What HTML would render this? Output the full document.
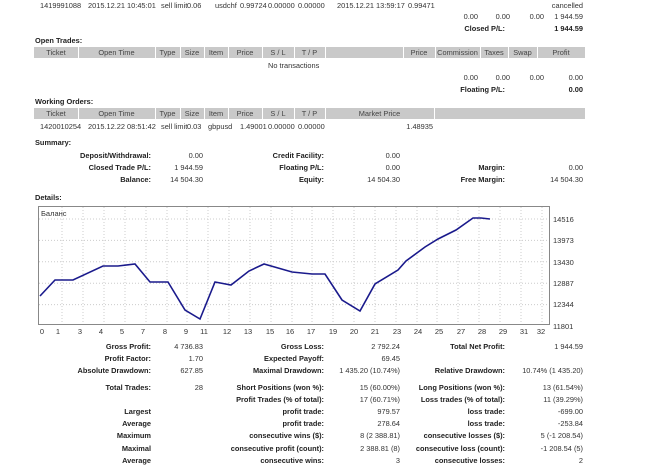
<!DOCTYPE html>
<html><head><meta charset="utf-8"><style>
body{margin:0;width:650px;height:467px;background:#fff;position:relative;overflow:hidden;font-family:"Liberation Sans","DejaVu Sans",sans-serif;font-size:7.4px;color:#333}
.t{position:absolute;white-space:nowrap;line-height:9px}
.b{font-weight:bold;color:#222}
.h{position:absolute;background:#c9c9c9;height:11px}
.c{position:absolute;text-align:center;line-height:11px;color:#444}
.v{position:absolute;width:1px;background:#fff;height:11px}
</style></head><body>
<div class="t" style="left:40px;top:1px">1419991088</div>
<div class="t" style="left:88px;top:1px">2015.12.21 10:45:01</div>
<div class="t" style="left:161px;top:1px">sell limit</div>
<div class="t" style="left:187px;top:1px">0.06</div>
<div class="t" style="left:215px;top:1px">usdchf</div>
<div class="t" style="left:240px;top:1px">0.99724</div>
<div class="t" style="left:268px;top:1px">0.00000</div>
<div class="t" style="left:298px;top:1px">0.00000</div>
<div class="t" style="left:337px;top:1px">2015.12.21 13:59:17</div>
<div class="t" style="left:408px;top:1px">0.99471</div>
<div class="t" style="right:67px;top:1px">cancelled</div>
<div class="t" style="right:172px;top:12px">0.00</div>
<div class="t" style="right:140px;top:12px">0.00</div>
<div class="t" style="right:106px;top:12px">0.00</div>
<div class="t" style="right:67px;top:12px">1 944.59</div>
<div class="t b" style="right:145px;top:24px">Closed P/L:</div>
<div class="t b" style="right:67px;top:24px">1 944.59</div>
<div class="t b" style="left:35px;top:36px">Open Trades:</div>
<div class="h" style="left:34px;top:47px;width:551px"></div>
<div class="c" style="left:34px;top:47px;width:44px">Ticket</div>
<div class="c" style="left:78px;top:47px;width:77px">Open Time</div>
<div class="c" style="left:155px;top:47px;width:25px">Type</div>
<div class="c" style="left:180px;top:47px;width:24px">Size</div>
<div class="c" style="left:204px;top:47px;width:24px">Item</div>
<div class="c" style="left:228px;top:47px;width:34px">Price</div>
<div class="c" style="left:262px;top:47px;width:32px">S / L</div>
<div class="c" style="left:294px;top:47px;width:31px">T / P</div>
<div class="c" style="left:403px;top:47px;width:32px">Price</div>
<div class="c" style="left:435px;top:47px;width:45px">Commission</div>
<div class="c" style="left:480px;top:47px;width:28px">Taxes</div>
<div class="c" style="left:508px;top:47px;width:29px">Swap</div>
<div class="c" style="left:537px;top:47px;width:48px">Profit</div>
<div class="v" style="left:78px;top:47px"></div><div class="v" style="left:155px;top:47px"></div><div class="v" style="left:180px;top:47px"></div><div class="v" style="left:204px;top:47px"></div><div class="v" style="left:228px;top:47px"></div><div class="v" style="left:262px;top:47px"></div><div class="v" style="left:294px;top:47px"></div><div class="v" style="left:325px;top:47px"></div><div class="v" style="left:403px;top:47px"></div><div class="v" style="left:435px;top:47px"></div><div class="v" style="left:480px;top:47px"></div><div class="v" style="left:508px;top:47px"></div><div class="v" style="left:537px;top:47px"></div>
<div class="t" style="left:268px;top:61px">No transactions</div>
<div class="t" style="right:172px;top:73px">0.00</div>
<div class="t" style="right:140px;top:73px">0.00</div>
<div class="t" style="right:106px;top:73px">0.00</div>
<div class="t" style="right:67px;top:73px">0.00</div>
<div class="t b" style="right:145px;top:85px">Floating P/L:</div>
<div class="t b" style="right:67px;top:85px">0.00</div>
<div class="t b" style="left:35px;top:97px">Working Orders:</div>
<div class="h" style="left:34px;top:108px;width:551px"></div>
<div class="c" style="left:34px;top:108px;width:44px">Ticket</div>
<div class="c" style="left:78px;top:108px;width:77px">Open Time</div>
<div class="c" style="left:155px;top:108px;width:25px">Type</div>
<div class="c" style="left:180px;top:108px;width:24px">Size</div>
<div class="c" style="left:204px;top:108px;width:24px">Item</div>
<div class="c" style="left:228px;top:108px;width:34px">Price</div>
<div class="c" style="left:262px;top:108px;width:32px">S / L</div>
<div class="c" style="left:294px;top:108px;width:31px">T / P</div>
<div class="c" style="left:325px;top:108px;width:109px">Market Price</div>
<div class="v" style="left:78px;top:108px"></div><div class="v" style="left:155px;top:108px"></div><div class="v" style="left:180px;top:108px"></div><div class="v" style="left:204px;top:108px"></div><div class="v" style="left:228px;top:108px"></div><div class="v" style="left:262px;top:108px"></div><div class="v" style="left:294px;top:108px"></div><div class="v" style="left:325px;top:108px"></div><div class="v" style="left:434px;top:108px"></div>
<div class="t" style="left:40px;top:122px">1420010254</div>
<div class="t" style="left:88px;top:122px">2015.12.22 08:51:42</div>
<div class="t" style="left:161px;top:122px">sell limit</div>
<div class="t" style="left:187px;top:122px">0.03</div>
<div class="t" style="left:208px;top:122px">gbpusd</div>
<div class="t" style="left:240px;top:122px">1.49001</div>
<div class="t" style="left:268px;top:122px">0.00000</div>
<div class="t" style="left:298px;top:122px">0.00000</div>
<div class="t" style="right:217px;top:122px">1.48935</div>
<div class="t b" style="left:35px;top:138px">Summary:</div>
<div class="t b" style="right:499px;top:151px">Deposit/Withdrawal:</div><div class="t" style="right:447px;top:151px">0.00</div>
<div class="t b" style="right:326px;top:151px">Credit Facility:</div><div class="t" style="right:250px;top:151px">0.00</div>
<div class="t b" style="right:499px;top:163px">Closed Trade P/L:</div><div class="t" style="right:447px;top:163px">1 944.59</div>
<div class="t b" style="right:326px;top:163px">Floating P/L:</div><div class="t" style="right:250px;top:163px">0.00</div>
<div class="t b" style="right:145px;top:163px">Margin:</div><div class="t" style="right:67px;top:163px">0.00</div>
<div class="t b" style="right:499px;top:175px">Balance:</div><div class="t" style="right:447px;top:175px">14 504.30</div>
<div class="t b" style="right:326px;top:175px">Equity:</div><div class="t" style="right:250px;top:175px">14 504.30</div>
<div class="t b" style="right:145px;top:175px">Free Margin:</div><div class="t" style="right:67px;top:175px">14 504.30</div>
<div class="t b" style="left:35px;top:193px">Details:</div>
<svg style="position:absolute;left:0;top:0" width="650" height="467" font-family="Liberation Sans, sans-serif" font-size="7.5" fill="#333">
<rect x="38.5" y="206.5" width="511" height="118" fill="#fff" stroke="#888"/>
<g stroke="#ccc" stroke-dasharray="1,2">
<line x1="39" x2="549" y1="219" y2="219"/><line x1="39" x2="549" y1="240.4" y2="240.4"/><line x1="39" x2="549" y1="261.8" y2="261.8"/><line x1="39" x2="549" y1="283.2" y2="283.2"/><line x1="39" x2="549" y1="304.6" y2="304.6"/>
<line x1="62" x2="62" y1="207" y2="324"/><line x1="83" x2="83" y1="207" y2="324"/><line x1="104" x2="104" y1="207" y2="324"/><line x1="125" x2="125" y1="207" y2="324"/><line x1="146" x2="146" y1="207" y2="324"/><line x1="167" x2="167" y1="207" y2="324"/><line x1="187" x2="187" y1="207" y2="324"/><line x1="208" x2="208" y1="207" y2="324"/><line x1="229" x2="229" y1="207" y2="324"/><line x1="250" x2="250" y1="207" y2="324"/><line x1="271" x2="271" y1="207" y2="324"/><line x1="292" x2="292" y1="207" y2="324"/><line x1="312" x2="312" y1="207" y2="324"/><line x1="333" x2="333" y1="207" y2="324"/><line x1="354" x2="354" y1="207" y2="324"/><line x1="375" x2="375" y1="207" y2="324"/><line x1="396" x2="396" y1="207" y2="324"/><line x1="417" x2="417" y1="207" y2="324"/><line x1="437" x2="437" y1="207" y2="324"/><line x1="458" x2="458" y1="207" y2="324"/><line x1="479" x2="479" y1="207" y2="324"/><line x1="500" x2="500" y1="207" y2="324"/><line x1="521" x2="521" y1="207" y2="324"/><line x1="542" x2="542" y1="207" y2="324"/>
</g>
<text x="41" y="216">Баланс</text>
<polyline fill="none" stroke="#1a1a8c" stroke-width="1.6" points="40,296 55,280 73,280 103,266 118,266 135,264 150,282 168,282 185,310 200,319 215,282 231,285 249,271 264,264 292,272 312,274 325,274 342,300 360,311 375,284 398,270 406,261 425,247 438,239 456,230 473,218 481,218 490,219"/>
<g>
<text x="553" y="222">14516</text><text x="553" y="243">13973</text><text x="553" y="265">13430</text><text x="553" y="286">12887</text><text x="553" y="307">12344</text><text x="553" y="329">11801</text>
</g>
<g text-anchor="middle">
<text x="42" y="334">0</text><text x="58" y="334">1</text><text x="80" y="334">3</text><text x="101" y="334">4</text><text x="122" y="334">5</text><text x="143" y="334">7</text><text x="165" y="334">8</text><text x="186" y="334">9</text><text x="204" y="334">11</text><text x="227" y="334">12</text><text x="248" y="334">13</text><text x="270" y="334">15</text><text x="290" y="334">16</text><text x="311" y="334">17</text><text x="333" y="334">19</text><text x="354" y="334">20</text><text x="375" y="334">21</text><text x="397" y="334">23</text><text x="418" y="334">24</text><text x="439" y="334">25</text><text x="461" y="334">27</text><text x="482" y="334">28</text><text x="503" y="334">29</text><text x="524" y="334">31</text><text x="541" y="334">32</text>
</g>
</svg>
<div class="t b" style="right:499px;top:342px">Gross Profit:</div><div class="t" style="right:447px;top:342px">4 736.83</div>
<div class="t b" style="right:326px;top:342px">Gross Loss:</div><div class="t" style="right:250px;top:342px">2 792.24</div>
<div class="t b" style="right:145px;top:342px">Total Net Profit:</div><div class="t" style="right:67px;top:342px">1 944.59</div>
<div class="t b" style="right:499px;top:354px">Profit Factor:</div><div class="t" style="right:447px;top:354px">1.70</div>
<div class="t b" style="right:326px;top:354px">Expected Payoff:</div><div class="t" style="right:250px;top:354px">69.45</div>
<div class="t b" style="right:499px;top:366px">Absolute Drawdown:</div><div class="t" style="right:447px;top:366px">627.85</div>
<div class="t b" style="right:326px;top:366px">Maximal Drawdown:</div><div class="t" style="right:250px;top:366px">1 435.20 (10.74%)</div>
<div class="t b" style="right:145px;top:366px">Relative Drawdown:</div><div class="t" style="right:67px;top:366px">10.74% (1 435.20)</div>
<div class="t b" style="right:499px;top:383px">Total Trades:</div><div class="t" style="right:447px;top:383px">28</div>
<div class="t b" style="right:326px;top:383px">Short Positions (won %):</div><div class="t" style="right:250px;top:383px">15 (60.00%)</div>
<div class="t b" style="right:145px;top:383px">Long Positions (won %):</div><div class="t" style="right:67px;top:383px">13 (61.54%)</div>
<div class="t b" style="right:326px;top:395px">Profit Trades (% of total):</div><div class="t" style="right:250px;top:395px">17 (60.71%)</div>
<div class="t b" style="right:145px;top:395px">Loss trades (% of total):</div><div class="t" style="right:67px;top:395px">11 (39.29%)</div>
<div class="t b" style="right:499px;top:407px">Largest</div>
<div class="t b" style="right:326px;top:407px">profit trade:</div><div class="t" style="right:250px;top:407px">979.57</div>
<div class="t b" style="right:145px;top:407px">loss trade:</div><div class="t" style="right:67px;top:407px">-699.00</div>
<div class="t b" style="right:499px;top:419px">Average</div>
<div class="t b" style="right:326px;top:419px">profit trade:</div><div class="t" style="right:250px;top:419px">278.64</div>
<div class="t b" style="right:145px;top:419px">loss trade:</div><div class="t" style="right:67px;top:419px">-253.84</div>
<div class="t b" style="right:499px;top:431px">Maximum</div>
<div class="t b" style="right:326px;top:431px">consecutive wins ($):</div><div class="t" style="right:250px;top:431px">8 (2 388.81)</div>
<div class="t b" style="right:145px;top:431px">consecutive losses ($):</div><div class="t" style="right:67px;top:431px">5 (-1 208.54)</div>
<div class="t b" style="right:499px;top:444px">Maximal</div>
<div class="t b" style="right:326px;top:444px">consecutive profit (count):</div><div class="t" style="right:250px;top:444px">2 388.81 (8)</div>
<div class="t b" style="right:145px;top:444px">consecutive loss (count):</div><div class="t" style="right:67px;top:444px">-1 208.54 (5)</div>
<div class="t b" style="right:499px;top:456px">Average</div>
<div class="t b" style="right:326px;top:456px">consecutive wins:</div><div class="t" style="right:250px;top:456px">3</div>
<div class="t b" style="right:145px;top:456px">consecutive losses:</div><div class="t" style="right:67px;top:456px">2</div>
</body></html>
